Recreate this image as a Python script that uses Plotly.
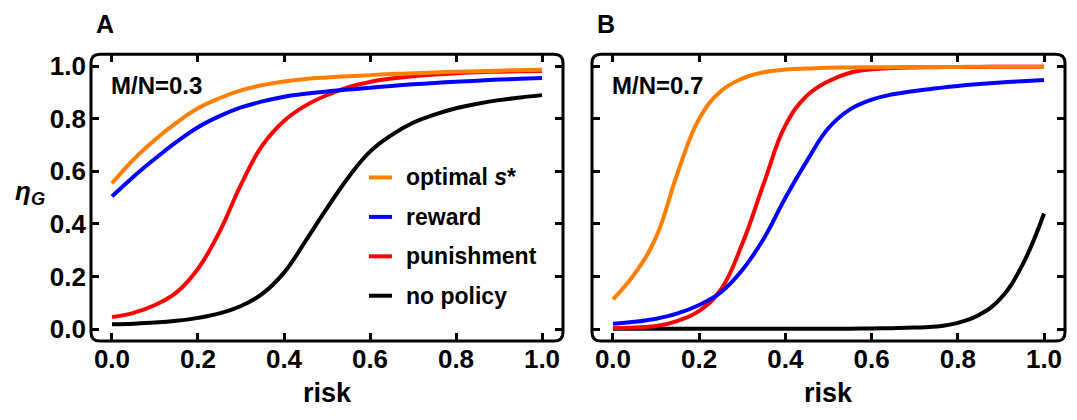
import plotly.graph_objects as go

risk = [round(i * 0.05, 2) for i in range(21)]

# Panel A: M/N = 0.3
a_optimal = [0.555, 0.645, 0.72, 0.785, 0.84, 0.878, 0.908, 0.928, 0.942, 0.951, 0.957,
             0.962, 0.966, 0.97, 0.973, 0.976, 0.979, 0.981, 0.983, 0.985, 0.986]
a_reward = [0.505, 0.58, 0.648, 0.712, 0.768, 0.81, 0.843, 0.866, 0.884, 0.895, 0.904,
            0.911, 0.918, 0.925, 0.931, 0.936, 0.941, 0.945, 0.949, 0.952, 0.955]
a_punish = [0.046, 0.062, 0.092, 0.14, 0.23, 0.37, 0.55, 0.70, 0.792, 0.85, 0.89,
            0.92, 0.94, 0.953, 0.962, 0.968, 0.973, 0.977, 0.979, 0.981, 0.982]
a_none = [0.019, 0.021, 0.025, 0.032, 0.043, 0.06, 0.088, 0.135, 0.215, 0.335, 0.46,
          0.578, 0.675, 0.738, 0.785, 0.816, 0.84, 0.857, 0.871, 0.881, 0.89]

# Panel B: M/N = 0.7
b_optimal = [0.113, 0.21, 0.35, 0.595, 0.80, 0.905, 0.953, 0.977, 0.987, 0.991, 0.994,
             0.995, 0.996, 0.996, 0.997, 0.997, 0.997, 0.998, 0.998, 0.998, 0.998]
b_reward = [0.021, 0.028, 0.04, 0.06, 0.092, 0.14, 0.225, 0.345, 0.5, 0.64, 0.765,
            0.836, 0.873, 0.893, 0.906, 0.916, 0.925, 0.932, 0.938, 0.943, 0.947]
b_punish = [0.004, 0.006, 0.012, 0.032, 0.07, 0.15, 0.325, 0.555, 0.775, 0.888, 0.943,
            0.975, 0.988, 0.993, 0.995, 0.996, 0.997, 0.997, 0.998, 0.998, 0.998]
b_none = [0.002, 0.002, 0.002, 0.002, 0.002, 0.002, 0.002, 0.002, 0.002, 0.002, 0.002,
          0.002, 0.003, 0.004, 0.006, 0.01, 0.024, 0.055, 0.118, 0.245, 0.44]

series_names = ["optimal <i>s</i>*", "reward", "punishment", "no policy"]
colors = ["#FF7F00", "#0000FF", "#FF0000", "#000000"]
panel_labels = ["A", "B"]
ratio_labels = ["M/N=0.3", "M/N=0.7"]
tick_vals = [0, 0.2, 0.4, 0.6, 0.8, 1.0]

# page body has an 8px margin; size the figure so it fits the window
OFF = 8
W, H = 1077 - 2 * OFF, 420 - 2 * OFF
FONT = "Liberation Sans, Arial, sans-serif"


def fx(px):
    return (px - OFF) / W


def fy(py):
    return 1 - (py - OFF) / H


fig = go.Figure()

panels = [[a_optimal, a_reward, a_punish, a_none], [b_optimal, b_reward, b_punish, b_none]]
draw_order = [3, 2, 1, 0]
for p, data in enumerate(panels):
    xa = "x" if p == 0 else "x2"
    ya = "y" if p == 0 else "y2"
    for k in draw_order:
        fig.add_trace(go.Scatter(x=risk, y=data[k], mode="lines",
                                 line=dict(color=colors[k], width=4, shape="spline", smoothing=1.2),
                                 xaxis=xa, yaxis=ya, showlegend=False, hoverinfo="skip"))

# reference-pixel frame positions
px_dom = [(91, 563), (592, 1065)]
py_top, py_bot = 52, 343
ydom = [fy(py_bot), fy(py_top)]

axis_common = dict(ticks="inside", ticklen=8, tickwidth=2.5, tickcolor="black",
                   mirror="ticks", showline=False, showgrid=False, zeroline=False,
                   tickvals=tick_vals, tickformat=".1f",
                   tickfont=dict(family=FONT, size=26, color="black", weight="bold"))

fig.update_layout(
    width=W, height=H, margin=dict(l=0, r=0, t=0, b=0),
    paper_bgcolor="white", plot_bgcolor="white",
    xaxis=dict(domain=[fx(px_dom[0][0]), fx(px_dom[0][1])], range=[-0.0488, 1.0488],
               anchor="y", **axis_common),
    yaxis=dict(domain=ydom, range=[-0.045, 1.045], anchor="x", ticklabelstandoff=4,
               **axis_common),
    xaxis2=dict(domain=[fx(px_dom[1][0]), fx(px_dom[1][1])], range=[-0.0487, 1.0487],
                anchor="y2", **axis_common),
    yaxis2=dict(domain=ydom, range=[-0.045, 1.045], anchor="x2", showticklabels=False,
                **axis_common),
    showlegend=False,
)

shapes = []
annotations = []
r = 9
for p, (l, rt) in enumerate(px_dom):
    x0, x1 = fx(l), fx(rt)
    y0, y1 = fy(py_bot), fy(py_top)
    rx, ry = r / W, r / H
    path = (f"M {x0+rx},{y0} L {x1-rx},{y0} Q {x1},{y0} {x1},{y0+ry} "
            f"L {x1},{y1-ry} Q {x1},{y1} {x1-rx},{y1} L {x0+rx},{y1} "
            f"Q {x0},{y1} {x0},{y1-ry} L {x0},{y0+ry} Q {x0},{y0} {x0+rx},{y0} Z")
    shapes.append(dict(type="path", xref="paper", yref="paper", path=path,
                       line=dict(color="black", width=3), layer="above"))
    annotations.append(dict(xref="paper", yref="paper", x=fx(l + 14), y=fy(21),
                            text=f"<b>{panel_labels[p]}</b>", showarrow=False,
                            font=dict(family=FONT, size=25, color="black"),
                            xanchor="center", yanchor="middle"))
    annotations.append(dict(xref="paper", yref="paper", x=fx(l + 18), y=fy(84),
                            text=f"<b>{ratio_labels[p]}</b>", showarrow=False,
                            font=dict(family=FONT, size=24, color="black"),
                            xanchor="left", yanchor="middle"))
    annotations.append(dict(xref="paper", yref="paper", x=fx((l + rt) / 2), y=0,
                            text="<b>risk</b>", showarrow=False,
                            font=dict(family=FONT, size=27, color="black"),
                            xanchor="center", yanchor="bottom", borderpad=0))

annotations.append(dict(xref="paper", yref="paper", x=fx(30), y=fy(192),
                        text="<b><i>η</i><sub><i>G</i></sub></b>", showarrow=False,
                        font=dict(family=FONT, size=26, color="black"),
                        xanchor="center", yanchor="middle"))

leg_rows = [177, 217, 257, 297]
for k, yy in enumerate(leg_rows):
    shapes.append(dict(type="line", xref="paper", yref="paper",
                       x0=fx(369), x1=fx(392), y0=fy(yy), y1=fy(yy),
                       line=dict(color=colors[k], width=4)))
    annotations.append(dict(xref="paper", yref="paper", x=fx(404), y=fy(yy),
                            text=f"<b>{series_names[k]}</b>", showarrow=False,
                            font=dict(family=FONT, size=23, color="black"),
                            xanchor="left", yanchor="middle"))

fig.update_layout(shapes=shapes, annotations=annotations)
fig.write_html("out.html")
